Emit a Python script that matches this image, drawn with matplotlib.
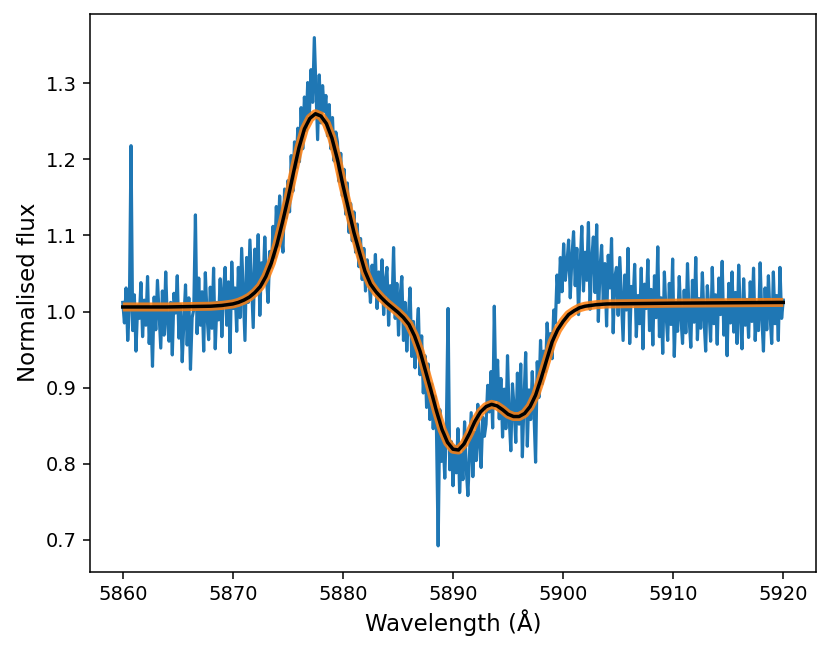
import numpy as np
import matplotlib
matplotlib.use("Agg")
import matplotlib.pyplot as plt

# Observed spectrum: uniform wavelength grid 5860-5920 A (401 samples)
wave_start, wave_end, n_obs = 5860.0, 5920.0, 401
flux_obs = [
    1.012, 0.985, 1.031, 0.962, 1.004, 1.218, 0.975, 1.022, 0.948, 1.008,
    0.991, 1.038, 0.967, 1.015, 0.982, 1.046, 0.958, 1.003, 0.928, 1.019,
    0.976, 1.041, 0.995, 0.952, 1.027, 0.969, 1.052, 0.987, 0.961, 1.012,
    0.943, 1.024, 0.998, 1.047, 0.965, 1.009, 0.934, 0.987, 1.035, 0.956,
    1.018, 0.924, 0.992, 1.003, 1.127, 0.971, 1.044, 0.982, 1.026, 0.948,
    1.051, 0.996, 0.963, 1.032, 0.978, 1.057, 0.951, 1.012, 0.989, 1.043,
    0.967, 1.028, 1.058, 0.982, 1.039, 0.946, 1.065, 1.004, 1.031, 0.974,
    1.058, 0.992, 1.083, 1.021, 0.962, 1.071, 1.012, 1.094, 1.038, 0.979,
    1.082, 1.027, 1.101, 0.995, 1.064, 1.036, 1.098, 1.045, 1.012, 1.079,
    1.058, 1.112, 1.071, 1.138, 1.086, 1.152, 1.104, 1.078, 1.161, 1.123,
    1.172, 1.131, 1.205, 1.158, 1.223, 1.189, 1.241, 1.197, 1.268, 1.214,
    1.282, 1.238, 1.301, 1.259, 1.318, 1.275, 1.360, 1.292, 1.226, 1.311,
    1.248, 1.297, 1.263, 1.284, 1.231, 1.272, 1.214, 1.255, 1.198, 1.236,
    1.223, 1.171, 1.208, 1.152, 1.187, 1.128, 1.169, 1.104, 1.142, 1.093,
    1.131, 1.078, 1.115, 1.059, 1.096, 1.042, 1.083, 1.027, 1.068, 1.049,
    1.012, 1.061, 1.028, 1.075, 1.004, 1.052, 1.019, 1.068, 0.996, 1.041,
    1.058, 0.982, 1.034, 1.002, 1.084, 0.991, 1.037, 0.969, 1.021, 1.046,
    0.962, 1.012, 0.948, 0.995, 1.031, 0.941, 0.987, 0.926, 0.972, 1.004,
    0.917, 0.968, 0.893, 0.942, 0.874, 0.931, 0.858, 0.905, 0.846, 0.889,
    0.842, 0.692, 0.871, 0.803, 0.836, 0.781, 0.852, 1.004, 0.792, 0.829,
    0.771, 0.823, 0.788, 0.846, 0.762, 0.812, 0.779, 0.855, 0.794, 0.758,
    0.812, 0.867, 0.783, 0.841, 0.804, 0.878, 0.826, 0.795, 0.861, 0.836,
    0.852, 0.903, 0.868, 0.921, 0.847, 1.007, 0.884, 0.936, 0.859, 0.912,
    0.835, 0.898, 0.846, 0.942, 0.861, 0.817, 0.905, 0.873, 0.828, 0.919,
    0.852, 0.931, 0.809, 0.884, 0.946, 0.823, 0.897, 0.858, 0.921, 0.868,
    0.802, 0.934, 0.887, 0.962, 0.905, 0.948, 0.921, 0.985, 0.943, 0.971,
    0.938, 1.002, 0.985, 1.048, 1.012, 1.071, 1.026, 1.089, 1.041, 1.063,
    1.094, 1.018, 1.072, 1.105, 1.034, 1.083, 0.996, 1.061, 1.112, 1.027,
    1.078, 1.041, 1.117, 1.003, 1.069, 1.098, 1.025, 1.114, 0.987, 1.056,
    1.087, 1.012, 1.063, 0.981, 1.074, 1.031, 1.096, 0.972, 1.045, 1.058,
    0.995, 1.071, 1.016, 0.962, 1.048, 1.002, 1.083, 0.958, 1.033, 1.009,
    1.062, 0.967, 1.021, 0.984, 1.057, 0.951, 1.036, 1.004, 1.068, 0.975,
    1.029, 0.956, 1.047, 0.992, 1.085, 0.967, 1.018, 0.945, 1.052, 0.998,
    0.962, 1.037, 0.983, 1.069, 0.941, 1.012, 0.974, 1.046, 0.993, 0.958,
    1.028, 0.972, 1.063, 0.991, 0.953, 1.041, 0.986, 1.071, 0.963, 1.017,
    0.978, 1.051, 0.992, 0.948, 1.034, 1.003, 0.961, 1.058, 0.984, 1.022,
    0.957, 1.044, 0.996, 1.066, 0.969, 1.013, 0.942, 1.037, 0.985, 1.052,
    0.973, 1.025, 0.958, 1.061, 0.994, 0.951, 1.043, 0.982, 1.016, 0.966,
    1.039, 0.987, 1.057, 0.962, 1.008, 0.975, 1.064, 0.993, 0.948, 1.031,
    0.976, 1.047, 0.995, 0.958, 1.052, 0.984, 1.021, 0.962, 1.058, 0.991,
    1.015,
]

# Best-fit model profile
model_wave = [
    5860.0, 5864.0, 5868.0, 5869.0, 5870.0, 5870.5, 5871.0, 5871.5, 5872.0, 5872.5,
    5873.0, 5873.5, 5874.0, 5874.5, 5875.0, 5875.5, 5876.0, 5876.5, 5877.0, 5877.5,
    5878.0, 5878.5, 5879.0, 5879.5, 5880.0, 5880.5, 5881.0, 5881.5, 5882.0, 5882.5,
    5883.0, 5883.5, 5884.0, 5884.5, 5885.0, 5885.5, 5886.0, 5886.5, 5887.0, 5887.5,
    5888.0, 5888.5, 5889.0, 5889.5, 5890.0, 5890.5, 5891.0, 5891.5, 5892.0, 5892.5,
    5893.0, 5893.5, 5894.0, 5894.5, 5895.0, 5895.5, 5896.0, 5896.5, 5897.0, 5897.5,
    5898.0, 5898.5, 5899.0, 5899.5, 5900.0, 5900.5, 5901.0, 5901.5, 5902.0, 5903.0,
    5904.0, 5910.0, 5920.0,
]
model_flux = [
    1.006, 1.006, 1.007, 1.008, 1.010, 1.012, 1.015, 1.019, 1.025, 1.033,
    1.046, 1.064, 1.088, 1.117, 1.148, 1.182, 1.215, 1.240, 1.254, 1.260,
    1.257, 1.247, 1.228, 1.200, 1.166, 1.135, 1.104, 1.078, 1.053, 1.036,
    1.026, 1.018, 1.011, 1.005, 0.999, 0.992, 0.983, 0.968, 0.948, 0.922,
    0.896, 0.869, 0.845, 0.828, 0.819, 0.818, 0.826, 0.840, 0.856, 0.868,
    0.875, 0.878, 0.876, 0.871, 0.865, 0.862, 0.862, 0.866, 0.875, 0.890,
    0.912, 0.936, 0.960, 0.976, 0.987, 0.996, 1.001, 1.005, 1.007, 1.009,
    1.010, 1.011, 1.012,
]

x_ticks = [5860, 5870, 5880, 5890, 5900, 5910, 5920]
y_ticks = [0.7, 0.8, 0.9, 1.0, 1.1, 1.2, 1.3]

wave_obs = np.linspace(wave_start, wave_end, n_obs)

fig = plt.figure(figsize=(8.31, 6.56), dpi=100)
ax = fig.add_axes([0.108, 0.1285, 0.8743, 0.8506])

ax.plot(wave_obs, flux_obs, color="#1f77b4", lw=2.3, zorder=1)
ax.plot(model_wave, model_flux, color="#ff7f0e", lw=6.5, alpha=0.85,
        solid_capstyle="butt", zorder=2)
ax.plot(model_wave, model_flux, color="black", lw=2.5, zorder=3)

ax.set_xlim(5857.0, 5923.0)
ax.set_ylim(0.658, 1.3915)
ax.set_xticks(x_ticks)
ax.set_yticks(y_ticks)
ax.set_yticklabels([f"{v:.1f}" for v in y_ticks])

ax.tick_params(labelsize=14, length=4.8, width=1.1, pad=4.8)
for s in ax.spines.values():
    s.set_linewidth(1.1)

ax.set_xlabel("Wavelength (Å)", fontsize=16.5)
ax.set_ylabel("Normalised flux", fontsize=16.5)

fig.savefig("out.png", dpi=100)
